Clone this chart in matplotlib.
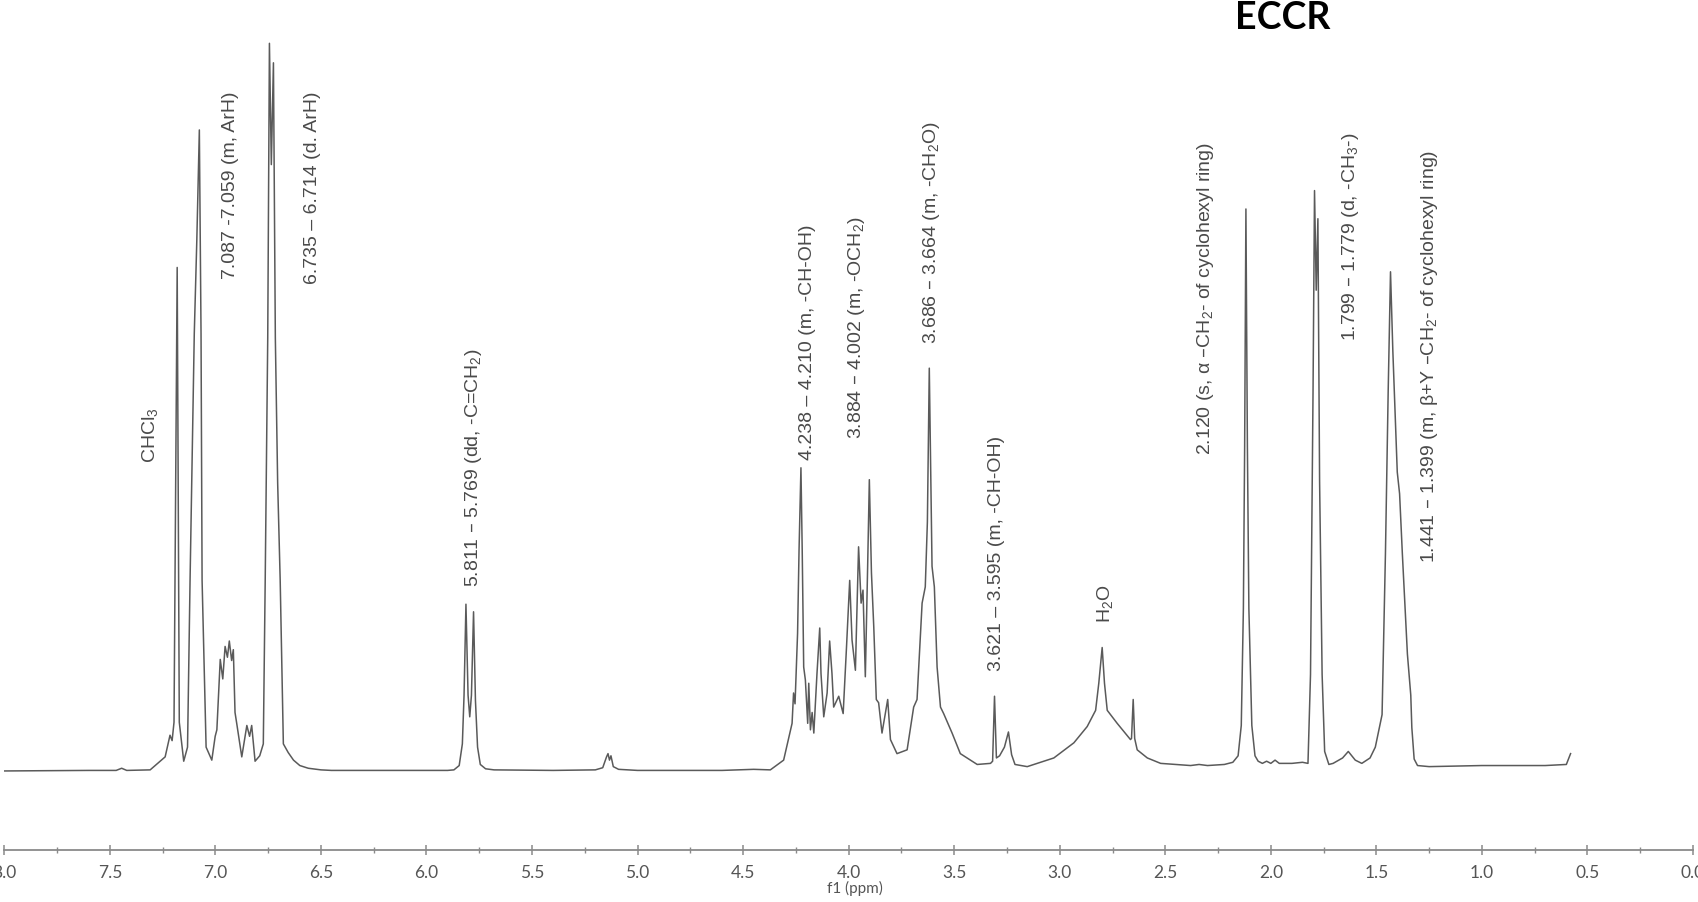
import matplotlib
matplotlib.use("Agg")
import matplotlib.pyplot as plt
from matplotlib.ticker import MultipleLocator, FormatStrFormatter

plt.rcParams["font.family"] = ["Liberation Sans", "DejaVu Sans"]
plt.rcParams["mathtext.default"] = "regular"

# spectrum trace: chemical shift (ppm) and intensity (arb. units)
ppm = [
    8.00, 7.60, 7.47, 7.444, 7.42, 7.309, 7.238, 7.215, 7.205, 7.196, 7.181, 7.171, 7.150,
    7.132, 7.120, 7.100, 7.088, 7.076, 7.068, 7.063, 7.044, 7.017,
    7.001, 6.993, 6.977, 6.965, 6.954, 6.943, 6.934, 6.923, 6.915, 6.907, 6.899, 6.875,
    6.851, 6.838, 6.828, 6.812,
    6.790, 6.773, 6.764, 6.752, 6.744, 6.735, 6.725, 6.716, 6.705, 6.693, 6.678, 6.655,
    6.630, 6.600, 6.560, 6.500, 6.450, 6.200, 5.900,
    5.870, 5.845, 5.830, 5.822, 5.813, 5.803, 5.795, 5.787, 5.777, 5.768, 5.758, 5.745,
    5.720, 5.680, 5.400, 5.200, 5.165, 5.147, 5.140, 5.133, 5.126, 5.115, 5.090, 5.000,
    4.600, 4.450, 4.371, 4.308, 4.268, 4.261, 4.254, 4.242, 4.235, 4.226, 4.220, 4.213,
    4.205, 4.194, 4.189, 4.181, 4.173, 4.165, 4.150, 4.137, 4.131, 4.118, 4.102, 4.090,
    4.079, 4.071, 4.047, 4.026, 4.010, 3.995, 3.984, 3.968, 3.953, 3.941, 3.932, 3.921,
    3.910, 3.902, 3.892, 3.881, 3.869, 3.858, 3.842, 3.815, 3.802, 3.771, 3.723, 3.692,
    3.676, 3.652, 3.637, 3.627, 3.618, 3.605, 3.594, 3.581, 3.565, 3.550, 3.510, 3.471,
    3.391, 3.328, 3.318, 3.309, 3.300, 3.285, 3.262, 3.243, 3.228, 3.212, 3.154, 3.028,
    2.933, 2.870, 2.830, 2.815, 2.799, 2.788, 2.775, 2.728, 2.665, 2.660, 2.652, 2.645,
    2.633, 2.585, 2.522, 2.450, 2.380, 2.340, 2.300, 2.220, 2.180, 2.155, 2.140, 2.130,
    2.124, 2.118, 2.111, 2.104, 2.090, 2.075, 2.060, 2.040, 2.020, 2.000, 1.980, 1.960,
    1.900, 1.850, 1.824, 1.812, 1.800, 1.793, 1.785, 1.777, 1.769, 1.757, 1.745, 1.725,
    1.705, 1.660, 1.633, 1.600, 1.569, 1.530, 1.505, 1.473, 1.457, 1.444, 1.433, 1.422,
    1.401, 1.390, 1.377, 1.353, 1.337, 1.332, 1.321, 1.305, 1.250, 1.000, 0.700, 0.600,
    0.580,
]
intensity = [
    0, 0.5, 0.5, 2.5, 0.5, 1, 13, 33, 28, 45, 465, 45, 9,
    22, 176, 404, 490, 592, 404, 176, 22, 10,
    32, 38, 103, 85, 115, 105, 120, 102, 112, 54, 44, 13,
    42, 32, 42, 9,
    14, 25, 176, 400, 672, 560, 654, 400, 266, 176, 25, 17,
    10, 5, 2.5, 1, 0.5, 0.5, 0.5,
    1, 5, 25, 70, 154, 70, 50, 70, 147, 65, 22, 6,
    2, 1, 0.5, 1, 3, 13, 16, 10, 14, 4, 1.5, 0.5,
    0.5, 1.5, 1, 10, 44, 72, 62, 127, 204, 280, 204, 96,
    84, 44, 81, 38, 54, 35, 90, 132, 90, 50, 72, 120,
    90, 59, 69, 53, 115, 176, 121, 93, 207, 155, 167, 87,
    189, 269, 183, 133, 66, 63, 35, 66, 29, 16, 19.5, 59,
    66, 155, 170, 230, 372, 189, 170, 96, 59, 53, 35, 16,
    6, 7, 9, 69, 12, 14, 22, 36, 15, 6, 4, 12,
    26, 41, 56, 81, 114, 81, 56, 44, 29, 30, 66, 30,
    19.5, 12, 7, 6, 5, 6, 5, 6, 8, 14, 42, 150,
    300, 519, 300, 150, 42, 14, 9, 7, 9, 7, 10, 7,
    7, 8, 7, 89, 351, 536, 444, 510, 268, 89, 18, 6,
    7, 12, 18, 10, 7, 12, 22, 52, 201, 351, 461, 388,
    276, 256, 201, 108, 70, 40, 11, 5, 4, 5, 5, 6,
    16,
]

# peak annotations: text, x position (ppm), bottom of text (intensity units)
label_texts = [
    "CHCl$_3$",
    "7.087 -7.059 (m, ArH)",
    "6.735 \u2013 6.714 (d. ArH)",
    "5.811 \u2013 5.769 (dd, -C=CH$_2$)",
    "4.238 \u2013 4.210 (m, -CH-OH)",
    "3.884 \u2013 4.002 (m, -OCH$_2$)",
    "3.686 \u2013 3.664 (m, -CH$_2$O)",
    "3.621 \u2013 3.595 (m, -CH-OH)",
    "H$_2$O",
    "2.120 (s, \u03b1 \u2013CH$_2$- of cyclohexyl ring)",
    "1.799 \u2013 1.779 (d, -CH$_3$-)",
    "1.441 \u2013 1.399 (m, \u03b2+Y \u2013CH$_2$- of cyclohexyl ring)",
]
label_x = [7.312, 6.927, 6.542, 5.777, 4.196, 3.965, 3.606, 3.298, 2.785, 2.308, 1.621, 1.246]
label_y = [284, 454, 450, 170, 287, 307, 394, 92, 137, 292, 397, 192]

W, H = 1698, 902
fig = plt.figure(figsize=(W / 100, H / 100), dpi=100)
ax = fig.add_axes([4.3 / W, 52 / H, (1693 - 4.3) / W, 850 / H])
ax.set_xlim(8, 0)
ax.set_ylim(-73, 712)

ax.plot(ppm, intensity, color="#5a5a5a", linewidth=1.1)

for s, x, y in zip(label_texts, label_x, label_y):
    ax.text(x, y, s, rotation=90, ha="center", va="bottom",
            fontsize=14, color="#4a4a4a")

for side in ["top", "left", "right"]:
    ax.spines[side].set_visible(False)
ax.spines["bottom"].set_color("#8a8a8a")
ax.spines["bottom"].set_linewidth(1.3)
ax.set_yticks([])
ax.xaxis.set_major_locator(MultipleLocator(0.5))
ax.xaxis.set_minor_locator(MultipleLocator(0.25))
ax.xaxis.set_major_formatter(FormatStrFormatter("%.1f"))
ax.tick_params(axis="x", which="both", direction="inout", color="#8a8a8a")
ax.tick_params(axis="x", which="major", length=7, width=1.1, pad=7,
               labelsize=12.5, labelcolor="#555555")
ax.tick_params(axis="x", which="minor", length=5, width=1.0)
for lbl in ax.get_xticklabels():
    lbl.set_family(["Lato", "DejaVu Sans"])

fig.text(855 / W, 1 - 888 / H, "f1 (ppm)", ha="center", va="center",
         fontsize=11, color="#555555", family=["Lato", "DejaVu Sans"])
fig.text(1283 / W, 1 - 18 / H, "ECCR", ha="center", va="center",
         fontsize=27, fontweight="bold", color="black", family=["Lato", "DejaVu Sans"])

fig.savefig("out.png", dpi=100)
